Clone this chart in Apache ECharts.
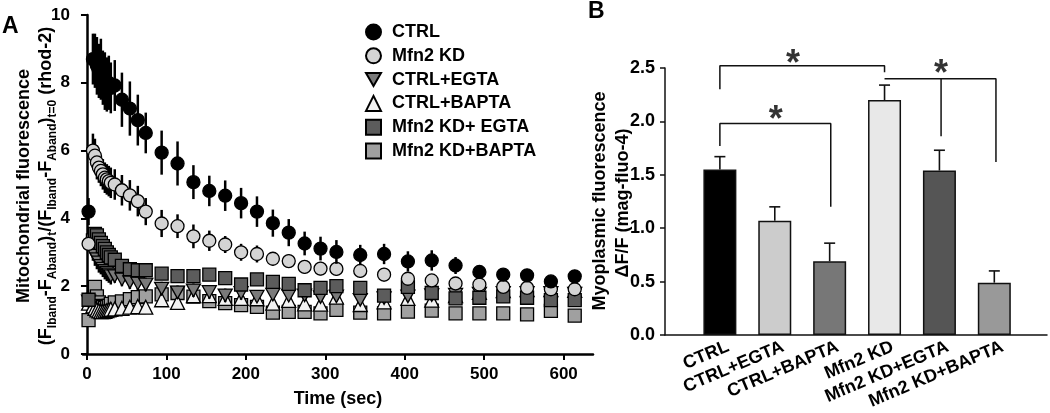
<!DOCTYPE html>
<html><head><meta charset="utf-8">
<script src="https://cdn.jsdelivr.net/npm/echarts@6/dist/echarts.min.js"></script>
<style>html,body{margin:0;padding:0;background:#fff}#c{width:1050px;height:413px}</style>
</head><body><div id="c"></div>
<script>
// ---------- Panel A data ----------
const timeSec = [2, 7.5, 10, 12.5, 15, 17.5, 20, 22.5, 25, 27.5, 30, 35, 44, 54, 64, 74, 94, 114, 134, 154, 174, 194, 214, 234, 254, 274, 294, 314, 344, 374, 404, 434, 464, 494, 524, 554, 584, 614];
const ctrlMean = [4.2, 8.7, 8.65, 8.5, 8.35, 8.4, 8.15, 8.05, 7.95, 8.0, 7.85, 7.92, 7.5, 7.24, 6.9, 6.52, 5.94, 5.62, 5.07, 4.81, 4.67, 4.45, 4.2, 3.86, 3.58, 3.26, 3.11, 3.01, 2.92, 2.95, 2.73, 2.76, 2.61, 2.42, 2.34, 2.32, 2.14, 2.29];
const ctrlErr = [0.4, 0.75, 0.8, 0.85, 0.8, 0.9, 0.8, 0.85, 0.8, 0.8, 0.75, 0.75, 0.8, 0.8, 0.75, 0.6, 0.65, 0.65, 0.5, 0.45, 0.45, 0.45, 0.45, 0.4, 0.4, 0.35, 0.35, 0.35, 0.3, 0.3, 0.3, 0.3, 0.25, 0.2, 0.15, 0.15, 0.1, 0.1];
const kdMean = [3.25, 6.0, 5.85, 5.65, 5.5, 5.4, 5.3, 5.2, 5.15, 5.1, 5.05, 5.0, 4.83, 4.68, 4.51, 4.2, 3.85, 3.77, 3.47, 3.34, 3.23, 3.0, 2.95, 2.81, 2.74, 2.57, 2.52, 2.51, 2.45, 2.34, 2.22, 2.17, 2.08, 2.05, 1.98, 1.95, 1.91, 1.91];
const kdErr = [0.2, 0.5, 0.5, 0.5, 0.45, 0.45, 0.45, 0.45, 0.45, 0.45, 0.45, 0.45, 0.45, 0.45, 0.45, 0.4, 0.4, 0.35, 0.35, 0.3, 0.25, 0.25, 0.25, 0.2, 0.2, 0.2, 0.2, 0.2, 0.2, 0.2, 0.15, 0.15, 0.15, 0.15, 0.12, 0.12, 0.1, 0.1];
const ctrlEgtaMean = [1.55, 3.05, 2.9, 2.8, 2.7, 2.6, 2.52, 2.45, 2.4, 2.35, 2.3, 2.3, 2.2, 2.12, 2.08, 2.05, 1.93, 1.82, 1.88, 1.83, 1.73, 1.8, 1.69, 1.75, 1.72, 1.73, 1.68, 1.7, 1.6, 1.65, 1.7, 1.74, 1.75, 1.78, 1.8, 1.8, 1.8, 1.78];
const ctrlEgtaErr = [0.15, 0.3, 0.3, 0.3, 0.3, 0.25, 0.25, 0.25, 0.25, 0.25, 0.25, 0.2, 0.2, 0.2, 0.2, 0.2, 0.2, 0.2, 0.2, 0.2, 0.2, 0.2, 0.15, 0.15, 0.15, 0.15, 0.15, 0.15, 0.15, 0.15, 0.15, 0.15, 0.15, 0.12, 0.12, 0.12, 0.1, 0.1];
const ctrlBaptaMean = [1.5, 1.42, 1.35, 1.3, 1.27, 1.25, 1.25, 1.26, 1.28, 1.3, 1.32, 1.33, 1.35, 1.38, 1.4, 1.38, 1.6, 1.52, 1.72, 1.72, 1.64, 1.64, 1.63, 1.5, 1.58, 1.48, 1.47, 1.68, 1.46, 1.54, 1.64, 1.59, 1.72, 1.82, 1.87, 1.9, 1.9, 1.88];
const ctrlBaptaErr = [0.15, 0.2, 0.2, 0.2, 0.2, 0.2, 0.2, 0.2, 0.2, 0.2, 0.2, 0.18, 0.18, 0.18, 0.18, 0.18, 0.18, 0.18, 0.15, 0.15, 0.15, 0.15, 0.15, 0.15, 0.15, 0.15, 0.15, 0.15, 0.15, 0.15, 0.15, 0.15, 0.15, 0.12, 0.12, 0.12, 0.1, 0.1];
const kdEgtaMean = [1.6, 3.35, 3.54, 3.5, 3.38, 3.28, 3.18, 3.1, 3.0, 2.92, 2.85, 2.78, 2.6, 2.5, 2.47, 2.47, 2.37, 2.3, 2.3, 2.34, 2.24, 2.05, 2.2, 2.13, 2.07, 1.88, 1.95, 2.0, 1.95, 1.72, 1.98, 1.8, 1.64, 1.66, 1.7, 1.66, 1.59, 1.59];
const kdEgtaErr = [0.15, 0.2, 0.2, 0.2, 0.2, 0.2, 0.2, 0.2, 0.2, 0.2, 0.2, 0.18, 0.18, 0.15, 0.15, 0.15, 0.15, 0.15, 0.15, 0.15, 0.15, 0.15, 0.15, 0.15, 0.15, 0.15, 0.15, 0.15, 0.15, 0.15, 0.15, 0.15, 0.12, 0.12, 0.12, 0.12, 0.1, 0.1];
const kdBaptaMean = [1.0, 1.6, 1.98, 1.7, 1.52, 1.42, 1.38, 1.36, 1.38, 1.42, 1.48, 1.52, 1.55, 1.62, 1.68, 1.7, 1.76, 1.8, 1.69, 1.56, 1.5, 1.44, 1.39, 1.22, 1.24, 1.24, 1.2, 1.3, 1.22, 1.2, 1.25, 1.28, 1.2, 1.2, 1.2, 1.17, 1.27, 1.13];
const kdBaptaErr = [0.12, 0.15, 0.15, 0.15, 0.15, 0.15, 0.15, 0.15, 0.15, 0.15, 0.15, 0.15, 0.15, 0.15, 0.15, 0.15, 0.15, 0.15, 0.12, 0.12, 0.12, 0.12, 0.12, 0.12, 0.12, 0.12, 0.12, 0.12, 0.1, 0.1, 0.1, 0.1, 0.1, 0.1, 0.1, 0.1, 0.1, 0.1];
const seriesNamesA = ['CTRL', 'Mfn2 KD', 'CTRL+EGTA', 'CTRL+BAPTA', 'Mfn2 KD+ EGTA', 'Mfn2 KD+BAPTA'];
const xTicksA = [0, 100, 200, 300, 400, 500, 600];

// ---------- Panel B data ----------
const barCategories = ['CTRL', 'CTRL+EGTA', 'CTRL+BAPTA', 'Mfn2 KD', 'Mfn2 KD+EGTA', 'Mfn2 KD+BAPTA'];
const barValues = [1.55, 1.07, 0.69, 2.20, 1.54, 0.49];
const barErrors = [0.12, 0.13, 0.17, 0.14, 0.19, 0.11];
// significance brackets: [x (bar position), y] in data space
const bracket1 = [[1, 2.30], [1, 2.52], [4, 2.52], [4, 2.46]];
const bracket2 = [[1, 1.77], [1, 1.98], [3.02, 1.98], [3.02, 1.20]];
const bracket3 = [[4, 2.40], [6.03, 2.40], [6.03, 1.62]];
const bracket3mid = [[5.03, 2.40], [5.03, 1.86]];
const stars = [[2.33, 2.60], [2.02, 2.08], [5.03, 2.51]];

const FONT = '"Liberation Sans", Arial, Helvetica, sans-serif';
const chart = echarts.init(document.getElementById('c'), null, {renderer: 'canvas'});
const DOWN_TRI = 'path://M0,0L20,0L10,17.32Z';

const styleA = [
  {mean: ctrlMean, err: ctrlErr, symbol: 'circle', size: 13, color: '#000000'},
  {mean: kdMean, err: kdErr, symbol: 'circle', size: 13, color: '#d4d4d4'},
  {mean: ctrlEgtaMean, err: ctrlEgtaErr, symbol: DOWN_TRI, size: [14, 12.5], color: '#7a7a7a'},
  {mean: ctrlBaptaMean, err: ctrlBaptaErr, symbol: 'triangle', size: 14, color: '#f2f2f2'},
  {mean: kdEgtaMean, err: kdEgtaErr, symbol: 'rect', size: 13, color: '#5c5c5c'},
  {mean: kdBaptaMean, err: kdBaptaErr, symbol: 'rect', size: 13, color: '#a0a0a0'}
];
const drawOrder = [5, 3, 2, 4, 1, 0];

const series = [];
drawOrder.forEach(function (k, idx) {
  const s = styleA[k];
  series.push({
    type: 'custom', name: 'err' + k, xAxisIndex: 0, yAxisIndex: 0, z: 2 + idx * 2,
    data: timeSec.map(function (t, i) { return [t, s.mean[i] - s.err[i], s.mean[i] + s.err[i]]; }),
    renderItem: function (params, api) {
      const p1 = api.coord([api.value(0), api.value(1)]);
      const p2 = api.coord([api.value(0), api.value(2)]);
      return {type: 'line', shape: {x1: p1[0], y1: p1[1], x2: p2[0], y2: p2[1]}, style: {stroke: '#000', lineWidth: 2.5}};
    },
    silent: true
  });
  series.push({
    type: 'scatter', name: seriesNamesA[k], xAxisIndex: 0, yAxisIndex: 0, z: 3 + idx * 2,
    symbol: s.symbol, symbolSize: s.size,
    itemStyle: {color: s.color, borderColor: '#000', borderWidth: 1.3, opacity: 1},
    data: timeSec.map(function (t, i) { return [t, s.mean[i]]; })
  });
});

// Panel B bars
const barColors = ['#000000', '#cccccc', '#777777', '#e8e8e8', '#555555', '#999999'];
series.push({
  type: 'bar', xAxisIndex: 1, yAxisIndex: 1, barWidth: 33, z: 2,
  data: barValues.map(function (v, i) { return {value: [i + 1, v], itemStyle: {color: barColors[i]}}; }),
  itemStyle: {borderColor: '#111', borderWidth: 1.5}
});
series.push({
  type: 'custom', xAxisIndex: 1, yAxisIndex: 1, z: 3, silent: true,
  data: barValues.map(function (v, i) { return [i + 1, v, v + barErrors[i]]; }),
  renderItem: function (params, api) {
    const p1 = api.coord([api.value(0), api.value(1)]);
    const p2 = api.coord([api.value(0), api.value(2)]);
    return {type: 'group', children: [
      {type: 'line', shape: {x1: p1[0], y1: p1[1], x2: p2[0], y2: p2[1]}, style: {stroke: '#111', lineWidth: 1.6}},
      {type: 'line', shape: {x1: p2[0] - 5.5, y1: p2[1], x2: p2[0] + 5.5, y2: p2[1]}, style: {stroke: '#111', lineWidth: 1.6}}
    ]};
  }
});
[bracket1, bracket2, bracket3, bracket3mid].forEach(function (b) {
  series.push({
    type: 'line', xAxisIndex: 1, yAxisIndex: 1, data: b, symbol: 'none', clip: false, silent: true,
    lineStyle: {color: '#111', width: 1.5}, z: 4, animation: false
  });
});
series.push({
  type: 'scatter', xAxisIndex: 1, yAxisIndex: 1, data: stars, symbolSize: 1, clip: false, silent: true,
  itemStyle: {color: 'rgba(0,0,0,0)'},
  label: {show: true, position: 'inside', formatter: '*', fontSize: 36, fontWeight: 'bold', fontFamily: FONT, color: '#000', offset: [0, 8]}
});

const labelShift = 0.15;
const option = {
  animation: false,
  backgroundColor: '#fff',
  textStyle: {fontFamily: FONT},
  grid: [
    {left: 83, top: 15, width: 510, height: 341},
    {left: 665, top: 68, width: 382, height: 267}
  ],
  legend: {
    data: seriesNamesA, orient: 'vertical', left: 360, top: 18,
    itemWidth: 15, itemHeight: 15, itemGap: 5.8,
    textStyle: {fontSize: 18, fontWeight: 'bold', fontFamily: FONT, color: '#000', lineHeight: 18, padding: [0, 0, 0, 6]}
  },
  xAxis: [
    {
      type: 'value', gridIndex: 0, min: -5, max: 637,
      name: 'Time (sec)', nameLocation: 'middle', nameGap: 36,
      nameTextStyle: {fontSize: 18, fontWeight: 'bold', color: '#000', fontFamily: FONT},
      axisLine: {lineStyle: {color: '#000', width: 2.5}},
      axisTick: {customValues: xTicksA, length: 6, lineStyle: {color: '#000', width: 2}},
      axisLabel: {customValues: xTicksA, fontSize: 17, fontWeight: 'bold', color: '#000', margin: 12},
      splitLine: {show: false}
    },
    {
      type: 'value', gridIndex: 1, min: 0, max: 6.96,
      axisLine: {lineStyle: {color: '#111', width: 1.5}},
      axisTick: {show: false},
      axisLabel: {customValues: [1, 2, 3, 4, 5, 6].map(function (v) { return v + labelShift; }), rotate: 23, fontSize: 18, fontWeight: 'bold', color: '#000', margin: 11,
        formatter: function (v) { return barCategories[Math.round(v - labelShift) - 1]; }},
      splitLine: {show: false}
    }
  ],
  yAxis: [
    {
      type: 'value', gridIndex: 0, min: 0, max: 10, interval: 2,
      axisLine: {show: true, lineStyle: {color: '#000', width: 2.5}},
      axisTick: {show: true, length: 6, lineStyle: {color: '#000', width: 2}},
      axisLabel: {fontSize: 17, fontWeight: 'bold', color: '#000', margin: 13},
      splitLine: {show: false}
    },
    {
      type: 'value', gridIndex: 1, min: 0, max: 2.5, interval: 0.5,
      axisLine: {show: true, lineStyle: {color: '#111', width: 1.5}},
      axisTick: {show: true, length: 5, lineStyle: {color: '#111', width: 1.5}},
      axisLabel: {fontSize: 18, fontWeight: 'bold', color: '#000', margin: 10, formatter: function (v) { return v.toFixed(1); }},
      splitLine: {show: false}
    }
  ],
  graphic: [
    {type: 'text', left: 2, top: 15, style: {text: 'A', font: 'bold 23px ' + FONT, fill: '#000'}},
    {type: 'text', left: 588, top: 0, style: {text: 'B', font: 'bold 23px ' + FONT, fill: '#000'}},
    {type: 'text', x: 24, y: 186, rotation: Math.PI / 2,
      style: {text: 'Mitochondrial fluorescence', font: 'bold 18px ' + FONT, fill: '#000', align: 'center', verticalAlign: 'middle'}},
    {type: 'text', x: 46, y: 186, rotation: Math.PI / 2,
      style: {
        text: '{m|(F}{s|Iband}{m|-F}{s|Aband}{m|)}{s|t}{m|/(F}{s|Iband}{m|-F}{s|Aband}{m|)}{s|t=0}{m| (rhod-2)}',
        align: 'center', verticalAlign: 'middle', fill: '#000',
        rich: {
          m: {fontSize: 18, fontWeight: 'bold', fontFamily: FONT, lineHeight: 26, verticalAlign: 'middle'},
          s: {fontSize: 12, fontWeight: 'bold', fontFamily: FONT, lineHeight: 14, verticalAlign: 'bottom'}
        }
      }},
    {type: 'text', x: 600, y: 201, rotation: Math.PI / 2,
      style: {text: 'Myoplasmic fluorescence', font: 'bold 18px ' + FONT, fill: '#000', align: 'center', verticalAlign: 'middle'}},
    {type: 'text', x: 623, y: 203, rotation: Math.PI / 2,
      style: {text: 'ΔF/F (mag-fluo-4)', font: 'bold 18px ' + FONT, fill: '#000', align: 'center', verticalAlign: 'middle'}}
  ],
  series: series
};
chart.setOption(option);
</script>
</body></html>
